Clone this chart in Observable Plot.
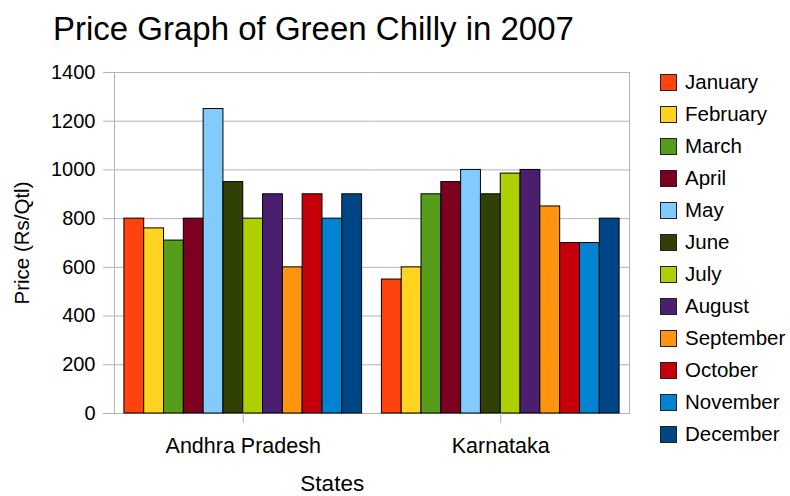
<!DOCTYPE html>
<html>
<head>
<meta charset="utf-8">
<script src="https://cdn.jsdelivr.net/npm/d3@7"></script>
<script src="https://cdn.jsdelivr.net/npm/@observablehq/plot@0.6"></script>
<style>
  html, body { margin: 0; padding: 0; background: #fff; }
  body { font-family: "Liberation Sans", Arial, sans-serif; color: #000; }
  #wrap { position: relative; width: 790px; height: 496px; overflow: hidden; }
  #title { position: absolute; left: 53px; top: 12px; font-size: 33px; line-height: 33px; white-space: nowrap; }
  #chart { position: absolute; left: 0; top: 0; }
  #legend { position: absolute; left: 660px; top: 66px; }
  .row { display: flex; align-items: center; height: 32px; }
  .sw { width: 15px; height: 15px; border: 1px solid #222; box-sizing: content-box; }
  .lab { margin-left: 8px; font-size: 20.5px; line-height: 20px; white-space: nowrap; }
</style>
</head>
<body>
<div id="wrap">
  <div id="chart"></div>
  <div id="title">Price Graph of Green Chilly in 2007</div>
  <div id="legend"></div>
</div>
<script>
const states = ["Andhra Pradesh", "Karnataka"];
const months = ["January", "February", "March", "April", "May", "June",
                "July", "August", "September", "October", "November", "December"];
const monthColors = ["#ff420e", "#ffd320", "#579d1c", "#7e0021", "#83caff", "#314004",
                     "#aecf00", "#4b1f6f", "#ff950e", "#c5000b", "#0084d1", "#004586"];
const andhraPradesh = [800, 760, 710, 800, 1250, 950, 800, 900, 600, 900, 800, 900];
const karnataka = [550, 600, 900, 950, 1000, 900, 985, 1000, 850, 700, 700, 800];
const yTicks = [0, 200, 400, 600, 800, 1000, 1200, 1400];
const xTitle = "States";
const yTitle = "Price (Rs/Qtl)";

const seriesByState = [andhraPradesh, karnataka];
const data = [];
states.forEach((s, i) => {
  months.forEach((m, j) => data.push({state: s, month: m, price: seriesByState[i][j]}));
});

const gridColor = "#b3b3b3";
const chart = Plot.plot({
  width: 790,
  height: 496,
  marginTop: 72,
  marginLeft: 114,
  marginRight: 161,
  marginBottom: 83,
  style: {fontFamily: '"Liberation Sans", Arial, sans-serif', fontSize: "20px", color: "#000", background: "transparent"},
  fx: {domain: states, padding: 0, round: false},
  x: {domain: months, padding: 0, paddingOuter: 0.5, round: false, axis: null},
  y: {domain: [0, 1400]},
  color: {domain: months, range: monthColors},
  marks: [
    Plot.gridY(yTicks, {stroke: gridColor, strokeOpacity: 1}),
    Plot.frame({anchor: "left", facetAnchor: "left", stroke: gridColor}),
    Plot.frame({anchor: "right", facetAnchor: "right", stroke: gridColor}),
    Plot.ruleY([0], {stroke: gridColor}),
    Plot.barY(data, {fx: "state", x: "month", y: "price", fill: "month", stroke: "#000", strokeWidth: 1, inset: 0}),
    Plot.axisY(yTicks, {tickSize: 11, tickPadding: 8, stroke: gridColor, fill: "#000", fontSize: 20,
      tickFormat: d => String(d), label: null}),
    Plot.axisY({fontSize: 20.5, fill: "#000", ticks: [], tickSize: 0,
      label: yTitle, labelAnchor: "center", labelArrow: "none", labelOffset: 100}),
    Plot.axisFx({anchor: "bottom", tickSize: 10, tickPadding: 14, stroke: gridColor, fill: "#000", fontSize: 21.5, label: null}),
    Plot.text([xTitle], {frameAnchor: "bottom", facetAnchor: "left", dx: 89, dy: 77,
      lineAnchor: "bottom", fontSize: 22.5, fill: "#000"})
  ]
});
document.getElementById("chart").appendChild(chart);

const legend = document.getElementById("legend");
months.forEach((m, i) => {
  const row = document.createElement("div");
  row.className = "row";
  const sw = document.createElement("div");
  sw.className = "sw";
  sw.style.background = monthColors[i];
  const lab = document.createElement("div");
  lab.className = "lab";
  lab.textContent = m;
  row.appendChild(sw);
  row.appendChild(lab);
  legend.appendChild(row);
});
</script>
</body>
</html>
